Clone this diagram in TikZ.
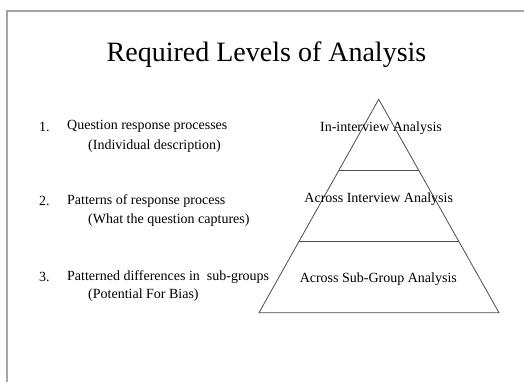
\documentclass[tikz,border=0pt]{standalone}
\usepackage{fontspec}
\setmainfont{Liberation Serif}
\usepackage{tikz}
\usetikzlibrary{calc}

\tikzset{
    levelText/.style={font=\fontsize{14bp}{16bp}\selectfont, text=black, inner sep=0pt},
    itemText/.style={levelText, anchor=west},
}

\begin{document}
\begin{tikzpicture}[x=1bp, y=-1bp]
    \useasboundingbox (0,0) rectangle (524,381);

    % Slide frame
    \draw[gray!70, line width=1.2bp] (7,400) -- (7,11) -- (540,11);

    % Title
    \node[font=\fontsize{28bp}{32bp}\selectfont, inner sep=0pt] (title) at (266.5,55) {Required Levels of Analysis};

    % List of levels
    \node[itemText] (num1) at (39,126.7) {1.};
    \node[itemText] (item1) at (67,126.7) {Question response processes};
    \node[itemText] (sub1) at (88,145.7) {(Individual description)};

    \node[itemText] (num2) at (39,201) {2.};
    \node[itemText] (item2) at (67,201) {Patterns of response process};
    \node[itemText] (sub2) at (88,220) {(What the question captures)};

    \node[itemText] (num3) at (39,276.7) {3.};
    \node[itemText] (item3) at (67,276.7) {Patterned differences in\ \ sub-groups};
    \node[itemText] (sub3) at (88,295) {(Potential For Bias)};

    % Pyramid
    \coordinate (apex) at (378.7,99.3);
    \coordinate (baseL) at (259,312.7);
    \coordinate (baseR) at (499,312.7);
    \draw[black!70, line width=0.8bp] (apex) -- (baseL) -- (baseR) -- cycle;
    \draw[black!70, line width=0.8bp] ($(apex)!0.333!(baseL)$) -- ($(apex)!0.333!(baseR)$);
    \draw[black!70, line width=0.8bp] ($(apex)!0.666!(baseL)$) -- ($(apex)!0.666!(baseR)$);

    % Level labels
    \node[levelText] (top) at (381,127.7) {In-interview Analysis};
    \node[levelText] (middle) at (378.7,199) {Across Interview Analysis};
    \node[levelText] (bottom) at (378.3,278.7) {Across Sub-Group Analysis};
\end{tikzpicture}
\end{document}
